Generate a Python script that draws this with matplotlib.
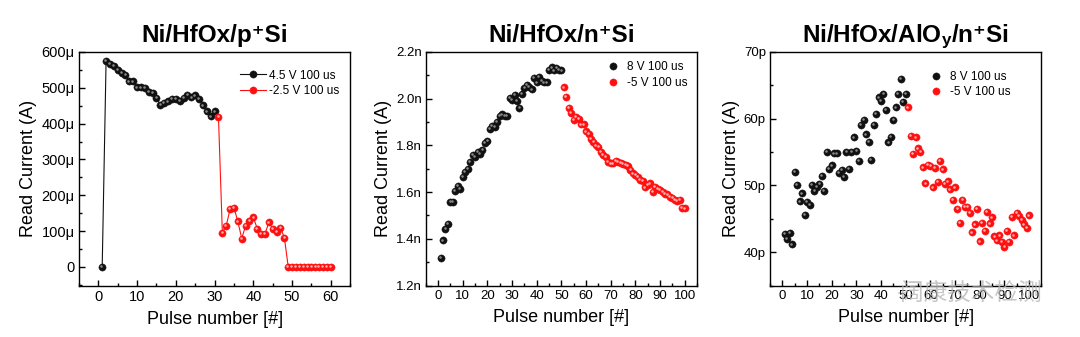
import matplotlib
matplotlib.use("Agg")
import matplotlib.pyplot as plt
from matplotlib.ticker import MultipleLocator, FuncFormatter
from matplotlib.transforms import ScaledTranslation

plt.rcParams["font.family"] = ["Liberation Sans", "DejaVu Sans"]
# mathtext only for the AlOy title: subscript y in Liberation bold,
# superscript-plus glyph taken from DejaVu bold (Liberation lacks it)
plt.rcParams["mathtext.fontset"] = "custom"
plt.rcParams["mathtext.rm"] = "Liberation Sans"
plt.rcParams["mathtext.it"] = "Liberation Sans:bold"
plt.rcParams["mathtext.bf"] = "DejaVu Sans:bold"

# ---- data: Ni/HfOx/p+Si ----
p_set_x = list(range(1, 31))
p_set_y = [0, 574, 567, 560, 551, 541, 535, 518, 518, 501,
           501, 499, 488, 485, 471, 453, 457, 462, 468, 468,
           464, 471, 481, 473, 479, 470, 451, 434, 420, 434]
p_reset_x = list(range(31, 61))
p_reset_y = [418, 96, 115, 161, 165, 127, 79, 115, 128, 138,
             107, 92, 92, 124, 106, 97, 108, 82, 0, 0,
             0, 0, 0, 0, 0, 0, 0, 0, 0, 0]

# ---- data: Ni/HfOx/n+Si (nA) ----
n_set_x = list(range(1, 51))
n_set_y = [1.319, 1.393, 1.444, 1.465, 1.558, 1.558, 1.605, 1.627, 1.615, 1.666,
           1.687, 1.701, 1.730, 1.759, 1.749, 1.773, 1.765, 1.780, 1.809, 1.819,
           1.869, 1.883, 1.878, 1.900, 1.926, 1.933, 1.926, 1.926, 2.005, 1.995,
           2.015, 1.990, 1.960, 2.020, 2.045, 2.060, 2.050, 2.040, 2.090, 2.070,
           2.095, 2.075, 2.070, 2.070, 2.124, 2.134, 2.121, 2.131, 2.124, 2.121]
n_reset_x = list(range(51, 101))
n_reset_y = [2.048, 2.009, 1.962, 1.938, 1.909, 1.923, 1.915, 1.890, 1.890, 1.860,
             1.848, 1.826, 1.815, 1.800, 1.795, 1.773, 1.759, 1.749, 1.730, 1.723,
             1.723, 1.734, 1.730, 1.726, 1.720, 1.716, 1.711, 1.694, 1.680, 1.673,
             1.666, 1.651, 1.648, 1.620, 1.630, 1.637, 1.601, 1.623, 1.615, 1.608,
             1.601, 1.594, 1.590, 1.580, 1.575, 1.568, 1.562, 1.565, 1.534, 1.530]

# ---- data: Ni/HfOx/AlOy/n+Si (pA) ----
a_set_x = list(range(1, 51))
a_set_y = [42.75, 42.0, 42.85, 41.15, 52.04, 50.13, 47.6, 48.8, 45.6, 47.5,
           47.1, 50.13, 49.2, 49.8, 50.2, 51.4, 49.2, 55.05, 52.5, 53.0,
           54.8, 54.8, 51.9, 52.3, 51.3, 55.05, 52.5, 55.05, 57.2, 55.15,
           53.7, 59.06, 59.8, 57.65, 56.55, 53.8, 59.06, 60.7, 63.2, 62.7,
           63.7, 61.3, 56.45, 57.3, 59.8, 61.7, 63.7, 65.99, 62.57, 63.7]
a_reset_x = list(range(51, 101))
a_reset_y = [61.7, 57.4, 54.7, 57.2, 55.55, 55.05, 52.7, 50.3, 53.1, 52.9,
             49.7, 52.6, 50.5, 53.7, 52.4, 50.2, 50.6, 49.4, 47.8, 49.7,
             46.5, 44.4, 47.8, 46.8, 46.8, 45.9, 42.95, 44.15, 46.5, 41.6,
             44.4, 43.15, 46.0, 44.3, 45.2, 42.35, 41.75, 42.5, 41.5, 40.75,
             43.15, 41.5, 45.25, 42.5, 45.9, 45.4, 44.8, 44.15, 43.6, 45.5]

titles = ["Ni/HfOx/p\u207aSi", "Ni/HfOx/n\u207aSi",
          "Ni/HfOx/AlO$_{\\mathit{y}}$/n$\\mathbf{\u207a}$Si"]

BLACK = "#111111"
BLACK_HI = "#8a8a8a"
RED = "#ff1010"
RED_HI = "#ffb0b0"

fig = plt.figure(figsize=(10.8, 3.37), dpi=100)
lefts = [0.0731, 0.3942, 0.7130]
axes = [fig.add_axes([l, 0.1528, 0.2512, 0.6929]) for l in lefts]


def balls(ax, x, y, color, hi, ms=5.2, line=False, label=None):
    ls = "-" if line else "none"
    h, = ax.plot(x, y, ls=ls, lw=0.8, color=color, marker="o", ms=ms,
                 mfc=color, mec=color, mew=0.3, label=label, zorder=3)
    shift = ax.transData + ScaledTranslation(-0.6 / 72, 0.6 / 72, fig.dpi_scale_trans)
    ax.plot(x, y, ls="none", marker="o", ms=ms * 0.35, mfc=hi, mec="none",
            transform=shift, zorder=4)
    return h


def style(ax, title, xlim, xmaj, ylim, ymaj, yfmt, fs_tick):
    ax.set_xlim(*xlim)
    ax.set_ylim(*ylim)
    ax.xaxis.set_major_locator(MultipleLocator(xmaj))
    ax.xaxis.set_minor_locator(MultipleLocator(xmaj / 2))
    ax.yaxis.set_major_locator(MultipleLocator(ymaj))
    ax.yaxis.set_minor_locator(MultipleLocator(ymaj / 2))
    ax.yaxis.set_major_formatter(FuncFormatter(yfmt))
    ax.tick_params(which="both", direction="in", top=False, right=False,
                   width=1.0, labelsize=fs_tick, pad=3)
    ax.tick_params(which="major", length=4)
    ax.tick_params(which="minor", length=2)
    for s in ax.spines.values():
        s.set_linewidth(1.0)
    ax.set_title(title, fontsize=17.5, fontweight="bold", pad=7,
                 family=["Liberation Sans", "DejaVu Sans"])
    ax.set_xlabel("Pulse number [#]", fontsize=13, labelpad=5)
    ax.set_ylabel("Read Current (A)", fontsize=13, labelpad=3)


# panel 1
ax = axes[0]
balls(ax, p_set_x, p_set_y, BLACK, BLACK_HI, line=True, label="4.5 V 100 us")
balls(ax, p_reset_x, p_reset_y, RED, RED_HI, line=True, label="-2.5 V 100 us")
style(ax, titles[0], (-5, 65), 10, (-52, 600), 100,
      lambda v, _: "0" if abs(v) < 1e-9 else f"{v:.0f}\u03bc", 10.5)
ax.legend(loc="upper right", frameon=False, fontsize=8.5, handlelength=2.2,
          handletextpad=0.3, labelspacing=0.3, borderaxespad=0.5,
          bbox_to_anchor=(1.0, 0.97))

# panel 2
ax = axes[1]
balls(ax, n_set_x, n_set_y, BLACK, BLACK_HI, label="8 V 100 us")
balls(ax, n_reset_x, n_reset_y, RED, RED_HI, label="-5 V 100 us")
style(ax, titles[1], (-5, 105), 10, (1.2, 2.2), 0.2,
      lambda v, _: f"{v:.1f}n", 9.5)
ax.legend(loc="upper right", frameon=False, fontsize=8.5, handlelength=1.2,
          handletextpad=0.6, labelspacing=0.3, borderaxespad=0.4)

# panel 3
ax = axes[2]
balls(ax, a_set_x, a_set_y, BLACK, BLACK_HI, label="8 V 100 us")
balls(ax, a_reset_x, a_reset_y, RED, RED_HI, label="-5 V 100 us")
style(ax, titles[2], (-5, 105), 10, (35, 70), 10,
      lambda v, _: f"{v:.0f}p", 9.5)
ax.legend(loc="upper right", frameon=False, fontsize=8.5, handlelength=1.2,
          handletextpad=0.6, labelspacing=0.3, borderaxespad=0.4,
          bbox_to_anchor=(0.92, 0.96))

# watermark
fig.text(0.835, 0.128, "\u00b7\u00b7", fontsize=14, color="#c8c8c8", ha="center",
         va="center")
fig.text(0.965, 0.128, "\u9614\u5eb7\u6280\u672f\u68c0\u6d4b", fontsize=17,
         color="#b4b4b4", alpha=0.75, ha="right", va="center",
         family=["Noto Sans CJK SC", "DejaVu Sans"])

fig.savefig("out.png", dpi=100)
